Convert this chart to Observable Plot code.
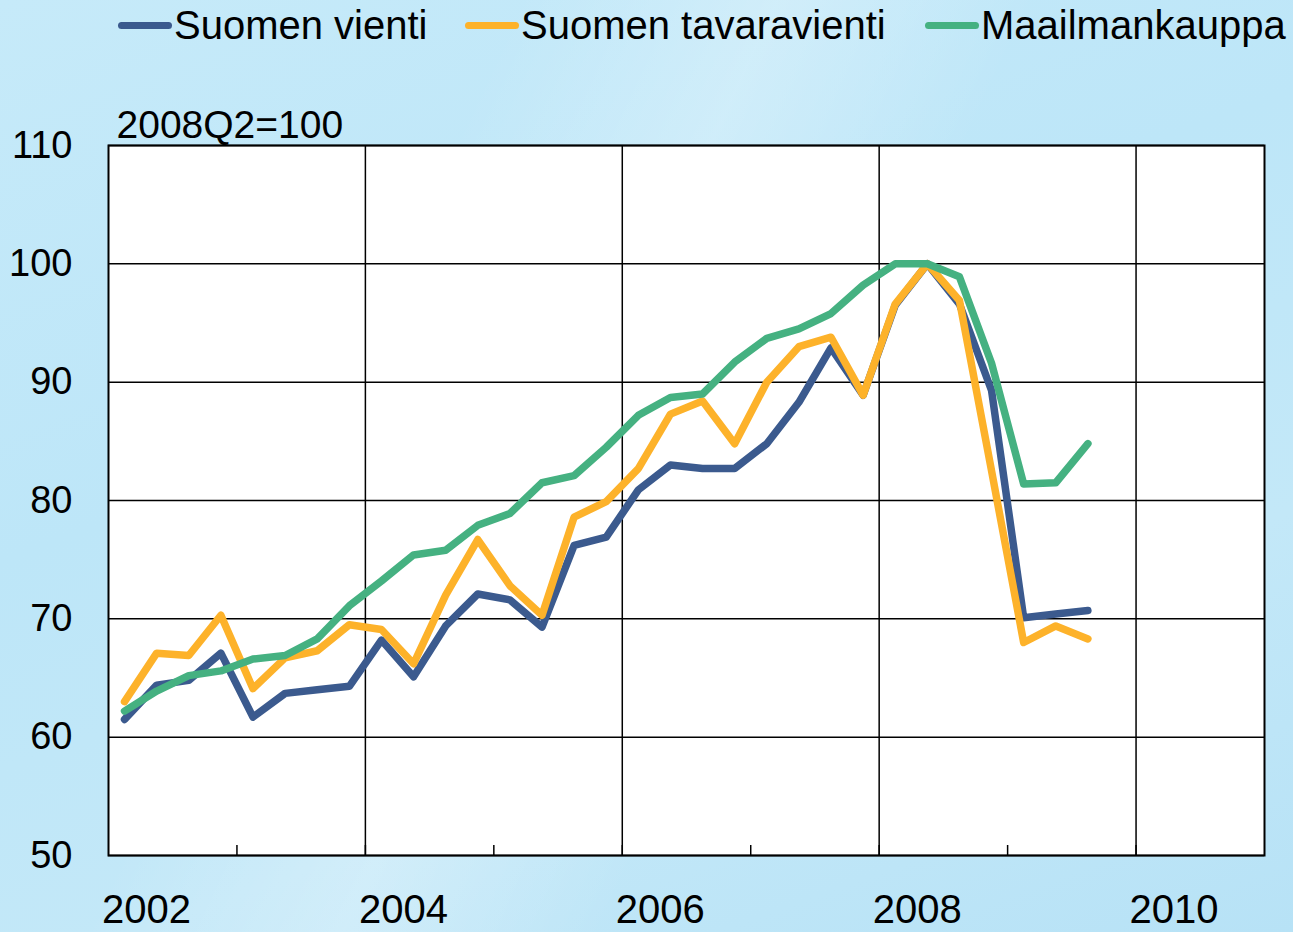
<!DOCTYPE html>
<html>
<head>
<meta charset="utf-8">
<script src="https://cdn.jsdelivr.net/npm/d3@7"></script>
<script src="https://cdn.jsdelivr.net/npm/@observablehq/plot@0.6"></script>
<style>
  body { margin: 0; }
  #wrap {
    position: relative; width: 1293px; height: 932px; overflow: hidden;
    font-family: "Liberation Sans", Arial, sans-serif;
    background:
      linear-gradient(115deg, rgba(255,255,255,0) 30%, rgba(255,255,255,0.25) 45%, rgba(255,255,255,0) 60%),
      linear-gradient(160deg, #c6eaf9 0%, #bde6f8 40%, #c3e8f8 70%, #b7e2f6 100%);
  }
  #legend { position: relative; height: 55px; }
  .item { position: absolute; top: 0; height: 50px; display: flex; align-items: center; font-size: 40px; color: #000; white-space: nowrap; }
  .sw { width: 54px; height: 7px; border-radius: 4px; margin-right: 2px; }
  #chart svg { display: block; background: transparent; }
</style>
</head>
<body>
<div id="wrap">
  <div id="legend"></div>
  <div id="chart"></div>
</div>
<script>
// ---- data ----
const quarters = [
  "2002Q1","2002Q2","2002Q3","2002Q4",
  "2003Q1","2003Q2","2003Q3","2003Q4",
  "2004Q1","2004Q2","2004Q3","2004Q4",
  "2005Q1","2005Q2","2005Q3","2005Q4",
  "2006Q1","2006Q2","2006Q3","2006Q4",
  "2007Q1","2007Q2","2007Q3","2007Q4",
  "2008Q1","2008Q2","2008Q3","2008Q4",
  "2009Q1","2009Q2","2009Q3"
];
const seriesNames = ["Suomen vienti", "Suomen tavaravienti", "Maailmankauppa"];
const seriesColors = ["#3b5a8e", "#fdb22a", "#45b181"];
const suomenVienti = [
  61.5, 64.4, 64.8, 67.1,
  61.7, 63.7, 64.0, 64.3,
  68.2, 65.1, 69.4, 72.1,
  71.6, 69.3, 76.2, 76.9,
  80.9, 83.0, 82.7, 82.7,
  84.8, 88.3, 92.9, 88.9,
  96.5, 100.0, 96.6, 89.3,
  70.1, 70.4, 70.7
];
const suomenTavaravienti = [
  63.0, 67.1, 66.9, 70.3,
  64.1, 66.7, 67.3, 69.5,
  69.1, 66.2, 72.0, 76.7,
  72.8, 70.3, 78.6, 79.9,
  82.7, 87.3, 88.4, 84.8,
  90.0, 93.0, 93.8, 88.9,
  96.6, 100.0, 96.9, 82.5,
  68.0, 69.4, 68.3
];
const maailmankauppa = [
  62.2, 63.9, 65.2, 65.6,
  66.6, 66.9, 68.3, 71.1,
  73.2, 75.4, 75.8, 77.9,
  78.9, 81.5, 82.1, 84.5,
  87.2, 88.7, 89.0, 91.7,
  93.7, 94.5, 95.8, 98.2,
  100.0, 100.0, 98.9, 91.6,
  81.4, 81.5, 84.8
];
const yTicks = [50, 60, 70, 80, 90, 100, 110];
const xLabelYears = [2002, 2004, 2006, 2008, 2010];
const xGridYears = [2004, 2006, 2008, 2010];
const xTickYears = [2003, 2004, 2005, 2006, 2007, 2008, 2009, 2010];
const unitLabel = "2008Q2=100";

// ---- build ----
const toTime = q => +q.slice(0, 4) + (+q.slice(5) - 0.5) / 4;
const allValues = [suomenVienti, suomenTavaravienti, maailmankauppa];
const rows = [];
allValues.forEach((vals, s) => {
  vals.forEach((v, i) => rows.push({series: seriesNames[s], t: toTime(quarters[i]), v}));
});

// legend
const legend = document.getElementById("legend");
const legendLeft = [118, 465, 925];
seriesNames.forEach((name, i) => {
  const it = document.createElement("div");
  it.className = "item";
  it.style.left = legendLeft[i] + "px";
  const sw = document.createElement("span");
  sw.className = "sw";
  sw.style.background = seriesColors[i];
  const tx = document.createElement("span");
  tx.textContent = name;
  it.appendChild(sw); it.appendChild(tx);
  legend.appendChild(it);
});

const plot = Plot.plot({
  width: 1293,
  height: 877,
  marginTop: 90,
  marginBottom: 77,
  marginLeft: 108,
  marginRight: 29,
  style: {fontFamily: "Liberation Sans, Arial, sans-serif", fontSize: "38px", color: "#000", background: "transparent"},
  x: {type: "linear", domain: [2002, 2011]},
  y: {domain: [50, 110]},
  color: {domain: seriesNames, range: seriesColors},
  marks: [
    Plot.frame({fill: "white"}),
    Plot.gridY(yTicks, {stroke: "#000", strokeOpacity: 1, strokeWidth: 1.5}),
    Plot.gridX(xGridYears, {stroke: "#000", strokeOpacity: 1, strokeWidth: 1.5}),
    Plot.axisY({ticks: yTicks, tickSize: 0, tickPadding: 36, label: null, fontSize: 38}),
    Plot.axisX({ticks: xTickYears, tickSize: -10, tickFormat: () => "", label: null, strokeWidth: 1.5}),
    Plot.axisX({ticks: xLabelYears, tickSize: 0, tickPadding: 39, dx: 38, tickFormat: d => String(d), label: null, fontSize: 40}),
    Plot.line(rows, {x: "t", y: "v", z: "series", stroke: "series", strokeWidth: 7.5, strokeLinejoin: "round", strokeLinecap: "round"}),
    Plot.frame({stroke: "#000", strokeWidth: 2}),
    Plot.text([unitLabel], {frameAnchor: "top-left", textAnchor: "start", lineAnchor: "bottom", dx: 8, dy: -8, fontSize: 39, fill: "#000"})
  ]
});
document.getElementById("chart").appendChild(plot);
</script>
</body>
</html>
